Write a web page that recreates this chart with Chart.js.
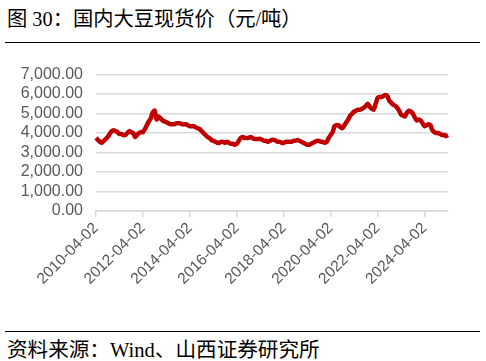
<!DOCTYPE html>
<html>
<head>
<meta charset="utf-8">
<script src="https://cdn.jsdelivr.net/npm/chart.js@4/dist/chart.umd.min.js"></script>
<style>
  html, body { margin: 0; padding: 0; background: #fff; }
  body { width: 486px; height: 361px; position: relative; overflow: hidden;
         font-family: "Liberation Serif", "Noto Sans CJK SC", serif; color: #000; }
  #title { position: absolute; left: 7px; top: 2px; font-size: 20.3px; white-space: nowrap; }
  #rule1 { position: absolute; left: 5px; top: 42px; width: 475px; height: 1px; background: #000; }
  #wrap { position: absolute; left: 0; top: 52px; width: 486px; height: 258px; }
  #rule2 { position: absolute; left: 5px; top: 331px; width: 475px; height: 1px; background: #000; }
  #source { position: absolute; left: 7px; top: 333px; font-size: 20.6px; white-space: nowrap; }
</style>
</head>
<body>
<div id="title">图 30：国内大豆现货价（元/吨）</div>
<div id="rule1"></div>
<div id="wrap"><canvas id="c"></canvas></div>
<div id="rule2"></div>
<div id="source">资料来源：Wind、山西证券研究所</div>
<script>
// 国内大豆现货价，月度（2010-04 起），元/吨 —— 从图上估读
const START_YEAR = 2010, START_MONTH = 4;
const prices = [
  3750, 3650, 3550, 3500, 3600, 3700, 3800, 3950, 4100, 4150, 4100, 4050,
  3950, 3950, 3900, 3900, 4000, 4100, 4050, 4000, 3800, 3900, 4000, 4050,
  4050, 4200, 4400, 4600, 4750, 5050, 5150, 4700, 4850, 4750, 4650, 4600,
  4550, 4500, 4450, 4450, 4450, 4500, 4500, 4500, 4450, 4450, 4450, 4400,
  4350, 4350, 4350, 4300, 4250, 4200, 4100, 4000, 3900, 3800, 3750, 3650,
  3600, 3550, 3500, 3500, 3550, 3550, 3500, 3550, 3500, 3450, 3450, 3400,
  3450, 3600, 3750, 3800, 3750, 3750, 3750, 3800, 3750, 3700, 3700, 3700,
  3700, 3650, 3600, 3600, 3550, 3600, 3650, 3650, 3600, 3550, 3550, 3500,
  3500, 3550, 3550, 3550, 3550, 3600, 3600, 3650, 3600, 3550, 3500, 3450,
  3400, 3400, 3450, 3500, 3550, 3600, 3600, 3550, 3550, 3500, 3550, 3750,
  3900, 4050, 4350, 4400, 4400, 4300, 4250, 4400, 4550, 4700, 4900, 5000,
  5100, 5150, 5200, 5200, 5250, 5300, 5400, 5500, 5350, 5250, 5200, 5500,
  5800, 5850, 5850, 5900, 5950, 5900, 5650, 5550, 5450, 5400, 5300, 5150,
  4950, 4900, 4850, 5050, 5150, 5100, 5000, 4800, 4650, 4700, 4650, 4500,
  4350, 4400, 4450, 4400, 4150, 4050, 4000, 4000, 3950, 3900, 3900, 3850,
  3900
];
const LABEL_EVERY = 24;   // 每两年一个刻度
const Y_TICKS = [0, 1000, 2000, 3000, 4000, 5000, 6000, 7000];

const labels = prices.map((_, i) => {
  const m = START_MONTH - 1 + i;
  const y = START_YEAR + Math.floor(m / 12);
  const mm = String(m % 12 + 1).padStart(2, '0');
  return `${y}-${mm}-02`;
});

const GRID = '#d9d9d9';
const TICK_COLOR = '#595959';

new Chart(document.getElementById('c'), {
  type: 'line',
  data: {
    labels,
    datasets: [{
      data: prices,
      borderColor: '#c00000',
      borderWidth: 4.5,
      pointRadius: 0,
      tension: 0.2,
      fill: false
    }]
  },
  options: {
    responsive: true,
    maintainAspectRatio: false,
    animation: false,
    layout: { padding: { top: 2, right: 38, bottom: 0, left: 0 } },
    plugins: { legend: { display: false }, tooltip: { enabled: false } },
    scales: {
      x: {
        type: 'category',
        offset: false,
        afterBuildTicks: s => { s.ticks = s.ticks.filter(t => t.value % LABEL_EVERY === 0); },
        afterFit: s => { s.height = 99; },
        ticks: {
          autoSkip: false,
          minRotation: 45,
          maxRotation: 45,
          color: TICK_COLOR,
          font: { family: 'Liberation Sans', size: 15.5 },
          padding: 2,
          callback: function (v) { return this.getLabelForValue(v); }
        },
        grid: { drawOnChartArea: false, drawTicks: true, tickLength: 6, color: GRID, lineWidth: 1.5 },
        border: { color: GRID, width: 1.5 }
      },
      y: {
        min: 0,
        max: 7000,
        afterBuildTicks: s => { s.ticks = Y_TICKS.map(v => ({ value: v })); },
        afterFit: s => { s.width = 96; },
        ticks: {
          autoSkip: false,
          color: TICK_COLOR,
          font: { family: 'Liberation Sans', size: 16 },
          padding: 13,
          callback: v => v.toLocaleString('en-US', { minimumFractionDigits: 2, maximumFractionDigits: 2 })
        },
        grid: { color: GRID, lineWidth: 1.5, drawTicks: false },
        border: { display: false }
      }
    }
  }
});
</script>
</body>
</html>
